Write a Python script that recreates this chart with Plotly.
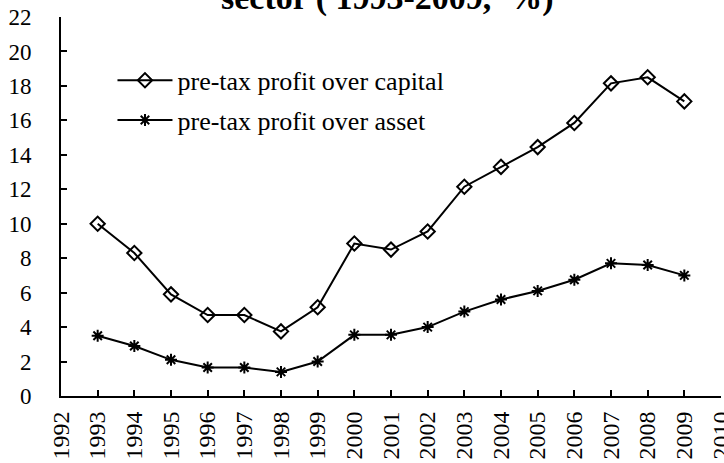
import plotly.graph_objects as go

years = list(range(1993, 2010))
capital = [10.0, 8.3, 5.9, 4.7, 4.7, 3.75, 5.15, 8.85, 8.5, 9.55, 12.15, 13.3, 14.45, 15.85, 18.15, 18.5, 17.1]
asset = [3.5, 2.9, 2.1, 1.65, 1.65, 1.4, 2.0, 3.55, 3.55, 4.0, 4.9, 5.6, 6.1, 6.75, 7.7, 7.6, 7.0]
x_ticks = list(range(1992, 2011))
y_ticks = list(range(0, 23, 2))

FONT = "Liberation Serif"

fig = go.Figure()
fig.add_trace(go.Scatter(
    x=years, y=capital, name="pre-tax profit over capital",
    mode="lines+markers", legendgroup="a",
    line=dict(color="black", width=2),
    marker=dict(symbol="diamond-open", size=11, color="black", line=dict(width=2, color="black")),
))
fig.add_trace(go.Scatter(
    x=years, y=asset, name="pre-tax profit over asset",
    mode="lines+markers", legendgroup="b",
    line=dict(color="black", width=2),
    marker=dict(symbol="asterisk-open", size=10, color="black", line=dict(width=2, color="black")),
))

fig.update_layout(
    width=724, height=463,
    margin=dict(l=61, r=3, t=17, b=67),
    paper_bgcolor="white", plot_bgcolor="white",
    font=dict(family=FONT, size=24, color="black"),
    showlegend=True,
    legend=dict(x=0.078, y=0.895, xanchor="left", yanchor="top",
                bgcolor="rgba(0,0,0,0)", font=dict(size=26), itemwidth=55,
                tracegroupgap=3),
    xaxis=dict(range=[1992, 2010], tickmode="array", tickvals=x_ticks,
               ticktext=[str(v) for v in x_ticks], tickangle=-90, automargin=False,
               showgrid=False, zeroline=False, showline=True, linecolor="black", linewidth=2,
               ticks="inside", ticklen=6, tickwidth=2, tickcolor="black",
               ticklabelstandoff=4, ticklabeloverflow="allow",
               tickfont=dict(family=FONT, size=24)),
    yaxis=dict(range=[0, 22], tickmode="array", tickvals=y_ticks, automargin=False,
               showgrid=False, zeroline=False, showline=True, linecolor="black", linewidth=2,
               ticks="inside", ticklen=6, tickwidth=2, tickcolor="black",
               ticklabelstandoff=23, ticklabeloverflow="allow",
               tickfont=dict(family=FONT, size=23)),
)

fig.add_annotation(
    text="<b>sector ( 1993-2009,  %)</b>", xref="paper", yref="paper",
    x=0.495, y=0.995, xanchor="center", yanchor="bottom", showarrow=False,
    font=dict(family=FONT, size=34, color="black"),
)

fig.write_html("out.html", config={"displayModeBar": False},
               post_script="document.body.style.margin='0';")
